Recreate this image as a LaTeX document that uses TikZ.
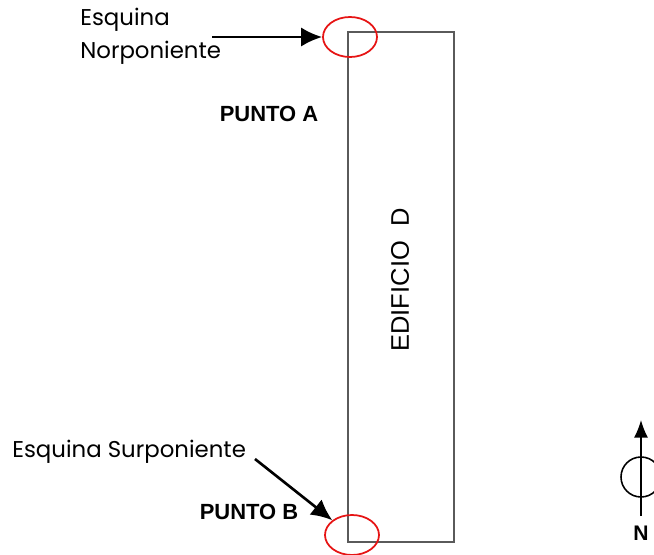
\documentclass[tikz,border=0pt]{standalone}
\usepackage{fontspec}
\setmainfont{Poppins}
\newfontfamily\labelfont{Liberation Sans}
\usepackage{tikz}
\usetikzlibrary{shapes.geometric, arrows.meta, positioning}
\definecolor{mark}{RGB}{230,20,20}
\definecolor{wall}{RGB}{90,90,90}
\tikzset{
  building/.style={draw=wall, line width=0.7pt},
  corner/.style={ellipse, draw=mark, line width=1pt, inner sep=0pt},
  pointer/.style={-{Latex[length=12pt, width=11pt]}, line width=1.5pt},
  note/.style={font=\fontsize{13}{15}\selectfont, anchor=west, inner sep=0pt},
  point/.style={font=\labelfont\bfseries\fontsize{12.5}{14}\selectfont},
  north/.style={-{Latex[length=10pt, width=8pt]}, line width=0.9pt}
}
\begin{document}
\begin{tikzpicture}[x=0.02cm, y=-0.02cm]
  \useasboundingbox (0,0) rectangle (654,555);

  % Building outline
  \draw[building] (348,32) rectangle (454,542);
  \node[rotate=90, font=\labelfont\fontsize{14.5}{16}\selectfont] (edificio) at (400,280) {EDIFICIO\ \ D};

  % Corners of the building
  \node[corner, minimum width=54*0.02cm, minimum height=40*0.02cm] (norp) at (350,37) {};
  \node[corner, minimum width=54*0.02cm, minimum height=40*0.02cm] (surp) at (352,535) {};

  % Labels and pointers
  \node[note] (esqn) at (80,20) {Esquina};
  \node[note] (esqn2) at (80,53) {Norponiente};
  \coordinate (fromn) at (212,37);
  \draw[pointer] (fromn) -- (norp.west);

  \node[point] (pta) at (269,114) {PUNTO A};

  \node[note] (esqs) at (12,452) {Esquina Surponiente};
  \coordinate (froms) at (255,459);
  \draw[pointer] (froms) -- (surp.north west);

  \node[point] (ptb) at (249,512) {PUNTO B};

  % North arrow
  \coordinate (nbase) at (641,516);
  \coordinate (ntip) at (641,420);
  \draw[line width=0.9pt] (641,477) circle (20*0.02cm);
  \draw[north] (nbase) -- (ntip);
  \node[font=\labelfont\bfseries\fontsize{12}{14}\selectfont] (nlabel) at (641,533) {N};
\end{tikzpicture}
\end{document}
